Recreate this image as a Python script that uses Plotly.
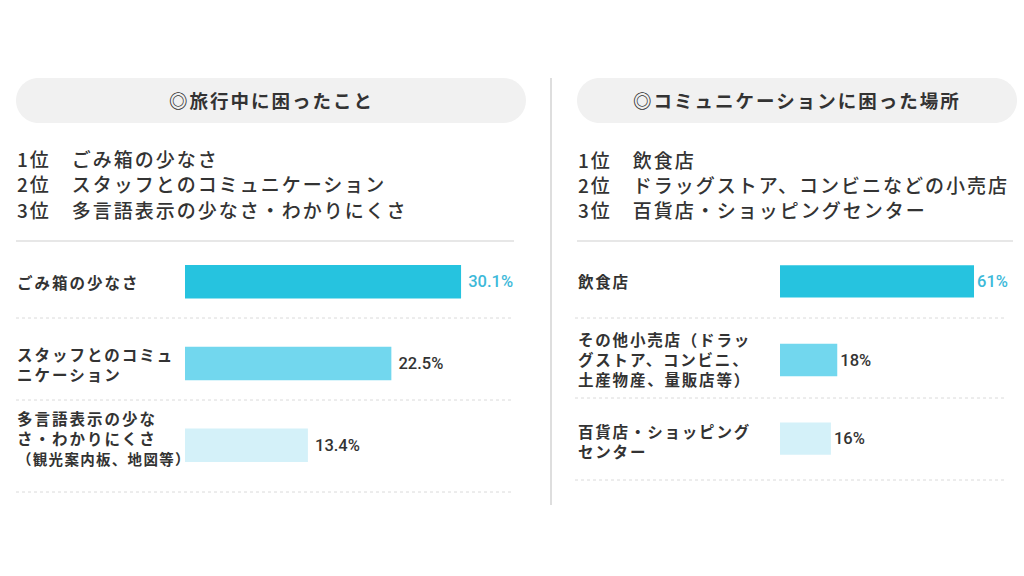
import plotly.graph_objects as go

# =============================================================================
# Data read off the reference infographic
# =============================================================================
W, H = 1024, 576
FONT = "Noto Sans CJK JP"

left_title = "◎旅行中に困ったこと"
left_ranking = ["1位　ごみ箱の少なさ", "2位　スタッフとのコミュニケーション", "3位　多言語表示の少なさ・わかりにくさ"]
left_categories = ["ごみ箱の少なさ", "スタッフとのコミュニケーション", "多言語表示の少なさ・わかりにくさ"]
left_labels = [
    "ごみ箱の少なさ",
    "スタッフとのコミュ<br>ニケーション",
    "多言語表示の少な<br>さ・わかりにくさ<br><span style='font-size:14.5px;letter-spacing:1.3px'>（観光案内板、地図等）</span>",
]
left_label_shift = [0, 0, 7]
left_values = [30.1, 22.5, 13.4]

right_title = "◎コミュニケーションに困った場所"
right_ranking = ["1位　飲食店", "2位　ドラッグストア、コンビニなどの小売店", "3位　百貨店・ショッピングセンター"]
right_categories = ["飲食店", "その他小売店", "百貨店・ショッピングセンター"]
right_labels = [
    "飲食店",
    "その他小売店（ドラッ<br>グストア、コンビニ、<br>土産物産、量販店等）",
    "百貨店・ショッピング<br>センター",
]
right_label_shift = [0, 1, -2]
right_values = [61, 18, 16]

bar_colors = ["#26C3DF", "#72D7EE", "#D4F1F9"]
value_colors = ["#3DB9D9", "#333333", "#333333"]


def px(x):
    return x / W


def py(y):
    return 1 - y / H


def spaced(s, sp):
    # letter spacing through the pseudo-html span style
    return f"<span style='letter-spacing:{sp}px'>{s}</span>"


def pill(x0, y0, x1, y1):
    # rounded "pill" rectangle as an SVG path in paper coordinates
    r = (y1 - y0) / 2
    k = 0.5523 * r
    p = lambda x, y: f"{px(x):.5f},{py(y):.5f}"
    return (
        f"M {p(x0 + r, y0)} L {p(x1 - r, y0)} "
        f"C {p(x1 - r + k, y0)} {p(x1, y0 + r - k)} {p(x1, y0 + r)} "
        f"C {p(x1, y0 + r + k)} {p(x1 - r + k, y1)} {p(x1 - r, y1)} "
        f"L {p(x0 + r, y1)} "
        f"C {p(x0 + r - k, y1)} {p(x0, y0 + r + k)} {p(x0, y0 + r)} "
        f"C {p(x0, y0 + r - k)} {p(x0 + r - k, y0)} {p(x0 + r, y0)} Z"
    )


fig = go.Figure()

fig.add_trace(go.Bar(
    x=left_values, y=left_categories, orientation="h",
    marker=dict(color=bar_colors, line=dict(width=0)), width=0.41,
    texttemplate=" %{x:.1f}%", textposition="outside", cliponaxis=False,
    textfont=dict(family="Roboto", size=16.5, color=value_colors, weight=500),
    xaxis="x", yaxis="y", hoverinfo="skip",
))
fig.add_trace(go.Bar(
    x=right_values, y=right_categories, orientation="h",
    marker=dict(color=bar_colors, line=dict(width=0)), width=0.41,
    texttemplate="%{x:.0f}%", textposition="outside", cliponaxis=False,
    textfont=dict(family="Roboto", size=16.5, color=value_colors, weight=500),
    xaxis="x2", yaxis="y2", hoverinfo="skip",
))

shapes = [
    dict(type="path", path=pill(16, 78, 526, 123), xref="paper", yref="paper",
         fillcolor="#F1F1F1", line=dict(width=0), layer="below"),
    dict(type="path", path=pill(577, 78, 1017, 123), xref="paper", yref="paper",
         fillcolor="#F1F1F1", line=dict(width=0), layer="below"),
    # vertical divider
    dict(type="line", xref="paper", yref="paper", x0=px(551), x1=px(551), y0=py(78), y1=py(505),
         line=dict(color="#C8C8C8", width=1.2)),
    # solid separators under the rankings
    dict(type="line", xref="paper", yref="paper", x0=px(16), x1=px(514), y0=py(241), y1=py(241),
         line=dict(color="#CFCFCF", width=1.2)),
    dict(type="line", xref="paper", yref="paper", x0=px(577), x1=px(1013), y0=py(241), y1=py(241),
         line=dict(color="#CFCFCF", width=1.2)),
]
for yy in [318, 400, 492]:
    shapes.append(dict(type="line", xref="paper", yref="paper", x0=px(16), x1=px(514),
                       y0=py(yy), y1=py(yy), line=dict(color="#DADADA", width=1, dash="dot")))
for yy in [318, 398, 480]:
    shapes.append(dict(type="line", xref="paper", yref="paper", x0=px(575), x1=px(1007),
                       y0=py(yy), y1=py(yy), line=dict(color="#DADADA", width=1, dash="dot")))

title_font = dict(family=FONT, size=18.5, color="#333333", weight="bold")
rank_font = dict(family=FONT, size=19, color="#333333", weight=500)
label_font = dict(family=FONT, size=15.5, color="#333333", weight="bold")

annotations = [
    dict(text=spaced(left_title, 2), x=px(271), y=py(100.5), xref="paper", yref="paper", showarrow=False,
         xanchor="center", yanchor="middle", font=title_font),
    dict(text=spaced(right_title, 2), x=px(797), y=py(100.5), xref="paper", yref="paper", showarrow=False,
         xanchor="center", yanchor="middle", font=title_font),
]
for line, yy in zip(left_ranking, [158, 183.5, 209]):
    annotations.append(dict(text=spaced(line, 2), x=px(15), y=py(yy), xref="paper", yref="paper",
                            showarrow=False, xanchor="left", yanchor="middle", font=rank_font))
for line, yy in zip(right_ranking, [159, 184.5, 210]):
    annotations.append(dict(text=spaced(line, 2), x=px(576), y=py(yy), xref="paper", yref="paper",
                            showarrow=False, xanchor="left", yanchor="middle", font=rank_font))
for cat, lab, sh in zip(left_categories, left_labels, left_label_shift):
    annotations.append(dict(text=spaced(lab, 2), x=px(15), y=cat, xref="paper", yref="y", showarrow=False,
                            xanchor="left", yanchor="middle", align="left", yshift=sh, font=label_font))
for cat, lab, sh in zip(right_categories, right_labels, right_label_shift):
    annotations.append(dict(text=spaced(lab, 1.8), x=px(576), y=cat, xref="paper", yref="y2", showarrow=False,
                            xanchor="left", yanchor="middle", align="left", yshift=sh, font=label_font))

fig.update_layout(
    width=W, height=H,
    margin=dict(l=0, r=0, t=0, b=0),
    paper_bgcolor="white", plot_bgcolor="rgba(0,0,0,0)",
    showlegend=False,
    xaxis=dict(domain=[px(185), px(506)], range=[0, 35], visible=False, fixedrange=True),
    yaxis=dict(domain=[py(486), py(241)], autorange="reversed", visible=False, anchor="x"),
    xaxis2=dict(domain=[px(780), px(1009)], range=[0, 72], visible=False, anchor="y2"),
    yaxis2=dict(domain=[py(478), py(242)], autorange="reversed", visible=False, anchor="x2"),
    shapes=shapes,
    annotations=annotations,
)

# the page's default body margin would shift the picture by 8px
fig.write_html("out.html", config={"displayModeBar": False},
               post_script="document.body.style.margin='0';")
